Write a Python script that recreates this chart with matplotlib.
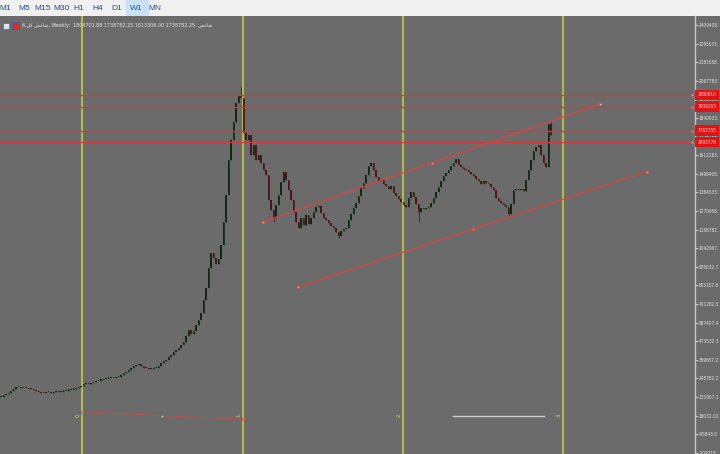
import numpy as np
import matplotlib
matplotlib.use('Agg')
import matplotlib.pyplot as plt
import matplotlib.transforms as mtransforms
from matplotlib.patches import Rectangle

# ------------------------------------------------------------
# Data (weekly closes, in thousands)
# ------------------------------------------------------------
close_k = [
    132, 144, 150, 157, 169, 181, 193, 195, 187, 189,
    186, 181, 182, 175, 169, 163, 157, 156, 163, 162,
    157, 163, 169, 163, 164, 169, 170, 175, 176, 181,
    187, 193, 199, 212, 218, 212, 218, 224, 230, 231,
    236, 242, 243, 248, 249, 247, 254, 256, 267, 279,
    285, 297, 310, 322, 328, 334, 322, 310, 309, 303,
    304, 310, 311, 322, 340, 352, 359, 377, 389, 408,
    420, 432, 450, 469, 505, 542, 518, 536, 573, 603,
    646, 726, 799, 922, 1014, 983, 946, 977, 1063, 1203,
    1369, 1583, 1705, 1816, 1932, 1981, 1960,
    1748, 1705, 1736, 1614, 1675, 1583, 1614, 1565, 1522, 1491,
    1338, 1277, 1228, 1307, 1369, 1448, 1509, 1460, 1399, 1338,
    1265, 1203, 1167, 1228, 1185, 1246, 1191, 1228, 1265, 1295,
    1301, 1258, 1228, 1216, 1197, 1179, 1167, 1142, 1118, 1148,
    1161, 1167, 1216, 1252, 1289, 1320, 1363, 1412, 1442, 1491,
    1546, 1565, 1522, 1479, 1454, 1460, 1436, 1424, 1405, 1424,
    1381, 1363, 1344, 1326, 1307, 1295, 1350, 1387, 1357, 1314,
    1265, 1289, 1283, 1289, 1295, 1320, 1350, 1387, 1418, 1454,
    1485, 1503, 1522, 1546, 1565, 1589, 1552, 1540, 1528, 1522,
    1509, 1497, 1485, 1467, 1454, 1436, 1454, 1442, 1436, 1418,
    1399, 1350, 1332, 1320, 1307, 1295, 1252, 1314, 1399, 1405,
    1399, 1405, 1393, 1460, 1522, 1583, 1638, 1663, 1675, 1614,
    1565, 1540, 1804.702, 1738.782,
]
# visible wick extremes (bar index -> price, thousands)
wick_high_k = {96: 2030, 220: 1813.306}
wick_low_k = {109: 1205, 135: 1105, 167: 1203, 203: 1240}

# horizontal levels (right-side red labels)
levels = [1980910, 1909283, 1762355, 1693176]

# channel trendlines: (bar, price) anchors
upper_line = [(104.9, 1205300), (172.5, 1566500), (239.6, 1925800)]
lower_line = [(118.8, 805500), (188.7, 1158600), (258.3, 1511400)]
# dotted line of the cycle tool
cycle_base = [(32.4, 42070), (64.5, 17590), (96.7, -2620)]
cycle_bars = [32.4, 96.7, 160.7, 224.7]
cycle_labels = ['0', '1', '2', '3']
gray_line = [(180.8, 15750), (217.2, 15750)]

price_ticks = [2409408.9, 2295533.8, 2181658.7, 2067783.6, 1953908.5,
               1840033.4, 1726158.3, 1612283.2, 1498408.1, 1384533.0,
               1270658.0, 1156782.9, 1042907.8, 929032.7, 815157.6,
               701282.5, 587407.4, 473532.3, 359657.2, 245782.2,
               131907.1, 18032.02, -95843.07, -209718.2]
price_labels = ['2409408.', '2295533.', '2181658.', '2067783.', '1953908.',
                '1840033.', '1726158.', '1612283.', '1498408.', '1384533.',
                '1270658.', '1156782.', '1042907.', '929032.7', '815157.6',
                '701282.5', '587407.4', '473532.3', '359657.2', '245782.2',
                '131907.1', '18032.02', '-95843.0', '-209718.']

periods = ['M1', 'M5', 'M15', 'M30', 'H1', 'H4', 'D1', 'W1', 'MN']
ohlc_text = '1804701.88 1738782.25 1813306.00 1738782.25'

# Persian words in visual (left-to-right) order, presentation forms
kol = '\uFEDE\uFEDB'
shakhes = '\uFEBA\uFEA7\uFE8E\uFEB7'

BG = '#6b6b6b'
W, H = 720, 454
TOP = 16
SMALL = dict(family='DejaVu Sans', stretch='condensed')

closes = np.array(close_k, dtype=float) * 1000
opens = np.r_[closes[0], closes[:-1]]
highs = np.maximum(opens, closes)
lows = np.minimum(opens, closes)
for i, v in wick_high_k.items():
    highs[i] = v * 1000
for i, v in wick_low_k.items():
    lows[i] = v * 1000
idx = np.arange(len(closes))

fig = plt.figure(figsize=(W / 100, H / 100), dpi=100, facecolor=BG)

# ------------------------------------------------------------
# Toolbar
# ------------------------------------------------------------
tb = fig.add_axes([0, 1 - TOP / H, 1, TOP / H])
tb.set_xlim(0, W)
tb.set_ylim(TOP, 0)
tb.axis('off')
tb.add_patch(Rectangle((0, 0), W, TOP, color='#f0f0f0', zorder=0))
tb.add_patch(Rectangle((126, 0), 22, TOP, color='#c9e1f5', zorder=1))
tb_x = [5.5, 24, 43, 62, 79, 97.5, 116.5, 136.5, 154.5]
for x, p in zip(tb_x, periods):
    tb.text(x, 8.5, p, ha='center', va='center', fontsize=6,
            family='Liberation Sans', color='#1f4f8f', zorder=2)

# ------------------------------------------------------------
# Chart
# ------------------------------------------------------------
ax = fig.add_axes([0, 0, 695 / W, (H - TOP) / H])
ax.set_facecolor(BG)
px_per_bar = 2.5
ax.set_xlim(-0.4, -0.4 + 695 / px_per_bar)
price_per_px = 6122
ax.set_ylim(2562500 - price_per_px * H, 2562500 - price_per_px * TOP)

min_body = 1.4 * price_per_px
up = closes >= opens
bull, bear = '#112a14', '#4a1818'
ax.vlines(idx, lows, highs, colors=np.where(up, bull, bear), lw=0.6, zorder=3)
for i in idx:
    b0 = min(opens[i], closes[i])
    bh = max(abs(closes[i] - opens[i]), min_body)
    ax.add_patch(Rectangle((i - 0.3, b0), 0.6, bh, lw=0,
                           color=bull if up[i] else bear, zorder=4))

# cycle lines
for b, lab in zip(cycle_bars, cycle_labels):
    ax.axvline(b, color='#b3ba4c', lw=1.5, zorder=2)
    ax.text(b - 1.6, 20000, lab, rotation=90, fontsize=4, color='#d7de7a',
            ha='center', va='center', zorder=6)
bx, by = zip(*cycle_base)
ax.plot(bx, by, ls=(0, (2, 1)), color='#cc4a4a', lw=0.8, zorder=5)
ax.plot(bx, by, 's', ms=2, mfc='white', mec='#cc4a4a', mew=0.6, zorder=6)

# horizontal levels
trans = mtransforms.blended_transform_factory(ax.transAxes, ax.transData)
for lv in levels:
    ax.axhline(lv, color='#d23a3a', lw=1.0, zorder=5)
    ax.plot(276.4, lv, 's', ms=1.8, mfc='white', mec='#d23c3c', mew=0.5,
            zorder=6, clip_on=False)

# channel
for line in (upper_line, lower_line):
    lx, ly = zip(*line)
    ax.plot([lx[0], lx[-1]], [ly[0], ly[-1]], color='#d84444', lw=0.9, zorder=5)
    ax.plot(lx, ly, 's', ms=2, mfc='white', mec='#d84444', mew=0.6, zorder=6)

gx, gy = zip(*gray_line)
ax.plot(gx, gy, color='#cfcfcf', lw=1.0, zorder=5)

# right price axis
for s in ('top', 'left', 'bottom'):
    ax.spines[s].set_visible(False)
ax.spines['right'].set_color('#c8c8c8')
ax.spines['right'].set_linewidth(1)
ax.set_xticks([])
ax.yaxis.tick_right()
ax.set_yticks(price_ticks)
ax.set_yticklabels(price_labels)
ax.tick_params(axis='y', colors='#c8c8c8', length=2.2, width=0.8, pad=0.6,
               labelsize=3.4, labelcolor='#e6e6e6')
for t in ax.get_yticklabels():
    t.set_fontstretch('condensed')

for lv in levels:
    ax.text(1.004, lv, f'{lv:.0f}', transform=trans, fontsize=3.4, color='#ffd6d6',
            va='center', ha='left', clip_on=False, zorder=10,
            bbox=dict(boxstyle='square,pad=0.6', fc='#e01414', ec='none'), **SMALL)

# ------------------------------------------------------------
# Header text and icons
# ------------------------------------------------------------
def fx(px):
    return px / W

def fy(py):
    return 1 - py / H

fig.patches.append(Rectangle((fx(3), fy(29)), 6 / W, 6 / H, transform=fig.transFigure,
                             fc='#dce6f0', ec='#3a6ab0', lw=0.5))
fig.patches.append(Rectangle((fx(12), fy(29)), 7 / W, 7 / H, transform=fig.transFigure,
                             fc='#d03030', ec='#2f5faf', lw=0.5))
header = '6,' + kol + ' ' + shakhes + ', Weekly:  ' + ohlc_text + '  ' + shakhes
fig.text(fx(22), fy(26), header, fontsize=3.9, color='#e8e8e8', va='center',
         ha='left', **SMALL)

fig.savefig('out.png', dpi=100, facecolor=BG)
